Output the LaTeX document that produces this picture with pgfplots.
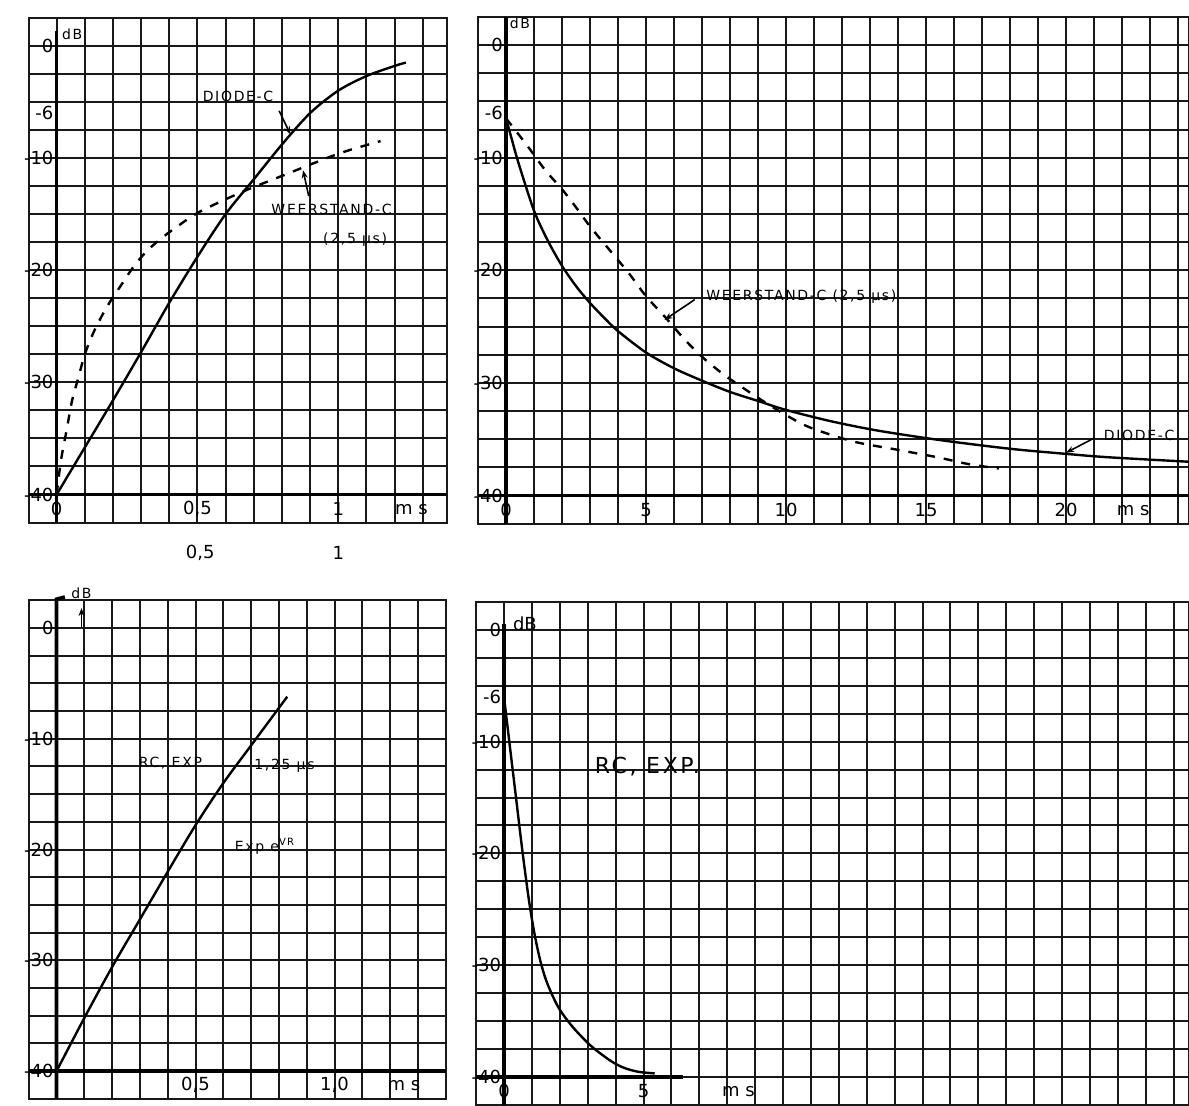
\documentclass[border=0pt]{standalone}
\usepackage{pgfplots}
\pgfplotsset{compat=1.18}
\usepackage{fontspec}
\setmainfont{DejaVu Sans}
\newfontfamily\hand[LetterSpace=12]{DejaVu Sans}
\newfontfamily\handt{DejaVu Sans}
\usetikzlibrary{arrows.meta}
\newcommand\annot{\hand\fontsize{7}{8}\selectfont}
\newcommand\tickf{\handt\fontsize{9}{10}\selectfont}
\tikzset{
  axline/.style={line width=1.8pt, black},
  arr/.style={-{Stealth[length=4pt,width=3pt]}, line width=0.8pt},
}
\pgfplotsset{
  paper/.style={
    scale only axis, clip=false,
    axis line style={line width=1pt, black!90},
    grid=minor,
    minor grid style={line width=1pt, black!90},
    major tick length=0pt, minor tick length=0pt,
    tick style={draw=none},
    ticklabel style={font=\tickf, text=black},
    xticklabel style={anchor=center, yshift=7pt},
    yticklabel style={anchor=east, xshift=16pt},
    minor ytick={-42.5,-40,...,2.5},
    ymin=-42.5, ymax=2.5,
  },
  curve/.style={line width=1.2pt, black, smooth, no marks},
  dcurve/.style={line width=1.2pt, black, dash pattern=on 4.5pt off 4.5pt, smooth, no marks},
}
\begin{document}
\begin{tikzpicture}
\useasboundingbox (0,0) rectangle (594.5pt,553pt);

% ---------------- Panel A (top left) ----------------
\begin{axis}[paper,
  at={(14.25pt,291.7pt)}, anchor=south west,
  width=209.25pt, height=252.45pt,
  xmin=-0.1, xmax=1.386,
  minor xtick={-0.1,0,0.1,0.2,0.3,0.4,0.5,0.6,0.7,0.8,0.9,1.0,1.1,1.2,1.3},
  xtick={0,0.5,1}, xticklabels={0,{0,5},1},
  ytick={0,-6,-10,-20,-30,-40}, yticklabels={0,-6,-10,-20,-30,-40},
]
\draw[axline] (axis cs:0,-42.5) -- (axis cs:0,1.3);
\draw[axline] (axis cs:-0.1,-40) -- (axis cs:1.386,-40);
\addplot[curve] coordinates {(0,-40) (0.1,-35.8) (0.2,-31.6) (0.3,-27.3) (0.4,-22.9) (0.5,-18.8) (0.6,-15.0) (0.7,-11.9) (0.8,-8.8) (0.9,-6.0) (1.0,-4.0) (1.1,-2.7) (1.2,-1.8) (1.24,-1.5)};
\addplot[dcurve] coordinates {(0,-40) (0.015,-37) (0.035,-34.3) (0.055,-31.6) (0.078,-29.5) (0.1,-27.5) (0.13,-25.6) (0.16,-24.1) (0.19,-22.8) (0.23,-21.3) (0.27,-19.8) (0.32,-18.3) (0.38,-17.0) (0.44,-15.9) (0.5,-14.9) (0.59,-13.8) (0.68,-12.8) (0.79,-11.7) (0.88,-10.8) (0.96,-10.0) (1.04,-9.3) (1.15,-8.5)};
\node[font=\annot] at (axis cs:0.055,1.0) {dB};
\node[font=\tickf] at (axis cs:1.26,-41.3) {m s};
\node[font=\tickf] at (axis cs:0.51,-45.2) {0,5};
\node[font=\tickf] at (axis cs:1.0,-45.2) {1};
\node[font=\annot] at (axis cs:0.644,-4.5) {DIODE-C};
\draw[arr] (axis cs:0.79,-5.8) -- (axis cs:0.83,-7.9);
\node[font=\annot] at (axis cs:0.976,-14.6) {WEERSTAND-C};
\node[font=\annot] at (axis cs:1.06,-17.3) {(2,5 µs)};
\draw[arr] (axis cs:0.895,-13.4) -- (axis cs:0.875,-11.1);
\end{axis}

% ---------------- Panel B (top right) ----------------
\begin{axis}[paper,
  at={(239pt,291.15pt)}, anchor=south west,
  width=355.5pt, height=253.35pt,
  xmin=-1, xmax=24.39,
  minor xtick={-1,0,...,24},
  xtick={0,5,10,15,20}, xticklabels={0,5,10,15,20},
  ytick={0,-6,-10,-20,-30,-40}, yticklabels={0,-6,-10,-20,-30,-40},
]
\draw[axline] (axis cs:0,-42.5) -- (axis cs:0,2.5);
\draw[axline] (axis cs:-1,-40) -- (axis cs:24.39,-40);
\addplot[curve] coordinates {(0,-6.5) (0.2,-8.3) (0.45,-10.5) (1,-14.7) (1.5,-17.4) (2,-19.6) (2.5,-21.4) (3,-22.9) (3.5,-24.2) (4,-25.4) (5,-27.3) (6,-28.7) (7,-29.8) (8,-30.8) (9,-31.6) (10,-32.4) (11.6,-33.4) (13.2,-34.2) (15,-34.9) (16.5,-35.4) (18.2,-35.9) (20,-36.3) (21.5,-36.6) (24.39,-37.0)};
\addplot[dcurve] coordinates {(0,-6.5) (0.75,-8.9) (1.4,-11.1) (2,-12.8) (2.5,-14.4) (3,-16.1) (3.7,-18.2) (4.4,-20.3) (5,-22.3) (5.7,-24.2) (6.4,-26.2) (7.1,-27.9) (7.8,-29.3) (8.5,-30.5) (9.3,-31.8) (10.1,-33.0) (10.9,-34.0) (12.4,-35.2) (13.9,-35.9) (15.4,-36.6) (16.5,-37.2) (17.6,-37.6)};
\node[font=\annot] at (axis cs:0.5,1.9) {dB};
\node[font=\tickf] at (axis cs:22.4,-41.3) {m s};
\node[font=\annot, anchor=west] at (axis cs:6.9,-22.3) {WEERSTAND-C (2,5 µs)};
\draw[arr] (axis cs:6.74,-22.6) -- (axis cs:5.66,-24.4);
\node[font=\annot, anchor=west] at (axis cs:21.1,-34.7) {DIODE-C};
\draw[arr] (axis cs:21.0,-34.9) -- (axis cs:20.0,-36.2);
\end{axis}

% ---------------- Panel C (bottom left) ----------------
\begin{axis}[paper,
  at={(14.35pt,3.55pt)}, anchor=south west,
  width=208.5pt, height=249.3pt,
  xmin=-0.1, xmax=1.4,
  minor xtick={-0.1,0,0.1,0.2,0.3,0.4,0.5,0.6,0.7,0.8,0.9,1.0,1.1,1.2,1.3,1.4},
  xtick={0.5,1}, xticklabels={{0,5},{1,0}},
  ytick={0,-10,-20,-30,-40}, yticklabels={0,-10,-20,-30,-40},
]
\draw[axline] (axis cs:0,-42.5) -- (axis cs:0,2.6) -- (axis cs:0.03,2.8);
\draw[axline] (axis cs:-0.1,-40) -- (axis cs:1.4,-40);
\addplot[curve] coordinates {(0,-40) (0.1,-35.2) (0.2,-30.6) (0.3,-26.3) (0.4,-22.0) (0.5,-17.8) (0.6,-14.0) (0.7,-10.6) (0.83,-6.2)};
\node[font=\annot] at (axis cs:0.09,3.1) {dB};
\draw[arr] (axis cs:0.09,0) -- (axis cs:0.09,1.8);
\node[font=\tickf] at (axis cs:1.25,-41.3) {m s};
\node[font=\annot] at (axis cs:0.41,-12.2) {RC, EXP};
\node[font=\annot] at (axis cs:0.82,-12.4) {1,25 µs};
\node[font=\annot] at (axis cs:0.75,-19.7) {Exp e\textsuperscript{VR}};
\end{axis}

% ---------------- Panel D (bottom right) ----------------
\begin{axis}[paper,
  at={(238.05pt,0.65pt)}, anchor=south west,
  width=356.45pt, height=251.3pt,
  xmin=-1, xmax=24.55,
  minor xtick={-1,0,...,24},
  xtick={0,5}, xticklabels={0,5},
  ytick={0,-6,-10,-20,-30,-40}, yticklabels={0,-6,-10,-20,-30,-40},
]
\draw[axline] (axis cs:0,-42.5) -- (axis cs:0,0.5);
\draw[axline] (axis cs:-1,-40) -- (axis cs:6.4,-40);
\addplot[curve] coordinates {(0,-6) (0.19,-10) (0.43,-15) (0.67,-20) (0.9,-24.3) (1.1,-27.3) (1.3,-29.6) (1.5,-31.3) (1.75,-32.8) (2.0,-34.0) (2.35,-35.2) (2.7,-36.2) (3.1,-37.2) (3.5,-38.0) (3.9,-38.7) (4.3,-39.2) (4.8,-39.55) (5.4,-39.7)};
\node[font=\tickf] at (axis cs:0.75,0.6) {dB};
\node[font=\tickf] at (axis cs:8.4,-41.3) {m s};
\node[font=\hand\fontsize{11}{12}\selectfont, anchor=west] at (axis cs:3.0,-12.2) {RC, EXP.};
\end{axis}
\end{tikzpicture}
\end{document}
